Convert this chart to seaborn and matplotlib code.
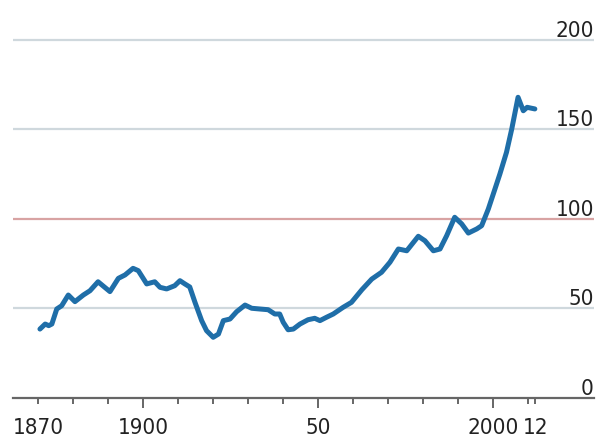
import numpy as np
import pandas as pd
import matplotlib
matplotlib.use('Agg')
import matplotlib.pyplot as plt
import matplotlib.transforms as mtransforms
from matplotlib import font_manager as fm
import seaborn as sns

# values (index, 100 = long-run reference)
years = [1870.5, 1872.0, 1873.0, 1873.9, 1875.3, 1876.7, 1878.6, 1880.5, 1882.9, 1884.8,
         1887.1, 1890.5, 1892.9, 1894.8, 1897.1, 1898.6, 1901.0, 1903.3, 1904.8, 1906.7,
         1909.0, 1910.5, 1911.9, 1913.3, 1914.8, 1916.7, 1918.1, 1920.0, 1921.5, 1922.9,
         1924.8, 1926.7, 1929.1, 1931.0, 1933.3, 1935.7, 1937.6, 1939.0, 1940.0, 1941.4,
         1942.9, 1944.8, 1947.1, 1949.0, 1950.5, 1952.4, 1954.3, 1957.1, 1959.5, 1962.5,
         1965.3, 1968.1, 1970.5, 1972.9, 1975.3, 1978.6, 1980.5, 1982.9, 1984.8, 1986.7,
         1989.0, 1991.0, 1992.9, 1995.3, 1996.7, 1998.6, 2000.5, 2001.9, 2003.8, 2005.3,
         2007.1, 2008.6, 2009.7, 2011.9]
values = [38.5, 41.3, 40.4, 41.3, 49.7, 51.5, 57.5, 53.8, 57.5, 59.9,
          64.9, 59.4, 66.8, 68.7, 72.4, 71.1, 63.7, 64.9, 61.8, 60.9,
          62.7, 65.5, 63.7, 62.0, 53.4, 43.2, 37.6, 33.9, 35.7, 43.2,
          44.1, 48.2, 51.9, 50.1, 49.7, 49.3, 46.9, 46.9, 42.3, 38.1,
          38.5, 41.3, 43.7, 44.5, 43.2, 45.1, 46.9, 50.6, 53.4, 60.5,
          66.4, 70.2, 75.8, 83.2, 82.2, 90.3, 87.8, 82.2, 83.2, 90.6,
          100.9, 97.2, 92.1, 94.4, 96.2, 105.5, 116.7, 125.0, 137.2, 150.2,
          167.9, 160.4, 162.3, 161.4]

y_ticks = [0, 50, 100, 150, 200]
y_labels = ["0", "50", "100", "150", "200"]
x_major = [1900, 1950, 2000]
x_major_labels = ["1900", "50", "2000"]
x_minor = [1870, 1880, 1890, 1910, 1920, 1930, 1940, 1960, 1970, 1980, 1990, 2010, 2012]
x_minor_labels = ["1870", "", "", "", "", "", "", "", "", "", "", "", "12"]

df = pd.DataFrame({"year": years, "index": values})

sns.set_style("white")

# prefer a narrow face if one is installed, else Roboto
narrow = [f for f in fm.fontManager.ttflist
          if ("Narrow" in f.name or "Condensed" in f.name or "condensed" in str(f.stretch))
          and f.weight in (400, "normal", "regular") and f.style == "normal"]
if narrow:
    fp = fm.FontProperties(fname=narrow[0].fname, size=16)
else:
    fp = fm.FontProperties(family=["Roboto", "DejaVu Sans"], size=16)

fig = plt.figure(figsize=(5.97, 4.39), dpi=100)
ax = fig.add_axes([13 / 597, 40 / 439, 581 / 597, 377 / 439])

# gridlines
for v in y_ticks[1:]:
    col = "#d8a3a3" if v == 100 else "#cfd8dd"
    ax.axhline(v, color=col, lw=1.6, zorder=1)

sns.lineplot(data=df, x="year", y="index", ax=ax, color="#1f6ea8", lw=3.6,
             solid_capstyle="round", solid_joinstyle="round", zorder=3)

ax.set_xlim(1862.8, 2028.8)
ax.set_ylim(0, 210.5)
ax.set_xlabel("")
ax.set_ylabel("")
ax.set_yticks([])

ax.set_xticks(x_major, labels=x_major_labels)
ax.set_xticks(x_minor, labels=x_minor_labels, minor=True)
ax.tick_params(axis="x", which="major", bottom=True, direction="out", length=7.2,
               width=1.4, color="#666666", pad=6.5, labelcolor="#222222")
ax.tick_params(axis="x", which="minor", bottom=True, direction="out", length=4.3,
               width=1.4, color="#666666", pad=9.4, labelcolor="#222222")
for lab in ax.get_xticklabels(which="both"):
    lab.set_fontproperties(fp)

for s in ["top", "right", "left"]:
    ax.spines[s].set_visible(False)
ax.spines["bottom"].set_color("#666666")
ax.spines["bottom"].set_linewidth(1.6)

trans = mtransforms.blended_transform_factory(ax.transAxes, ax.transData)
for v, lab in zip(y_ticks, y_labels):
    ax.annotate(lab, xy=(1.0, v), xycoords=trans, xytext=(0, 4),
                textcoords="offset pixels", ha="right", va="baseline",
                fontproperties=fp, color="#222222")

fig.savefig("out.png", dpi=100)
